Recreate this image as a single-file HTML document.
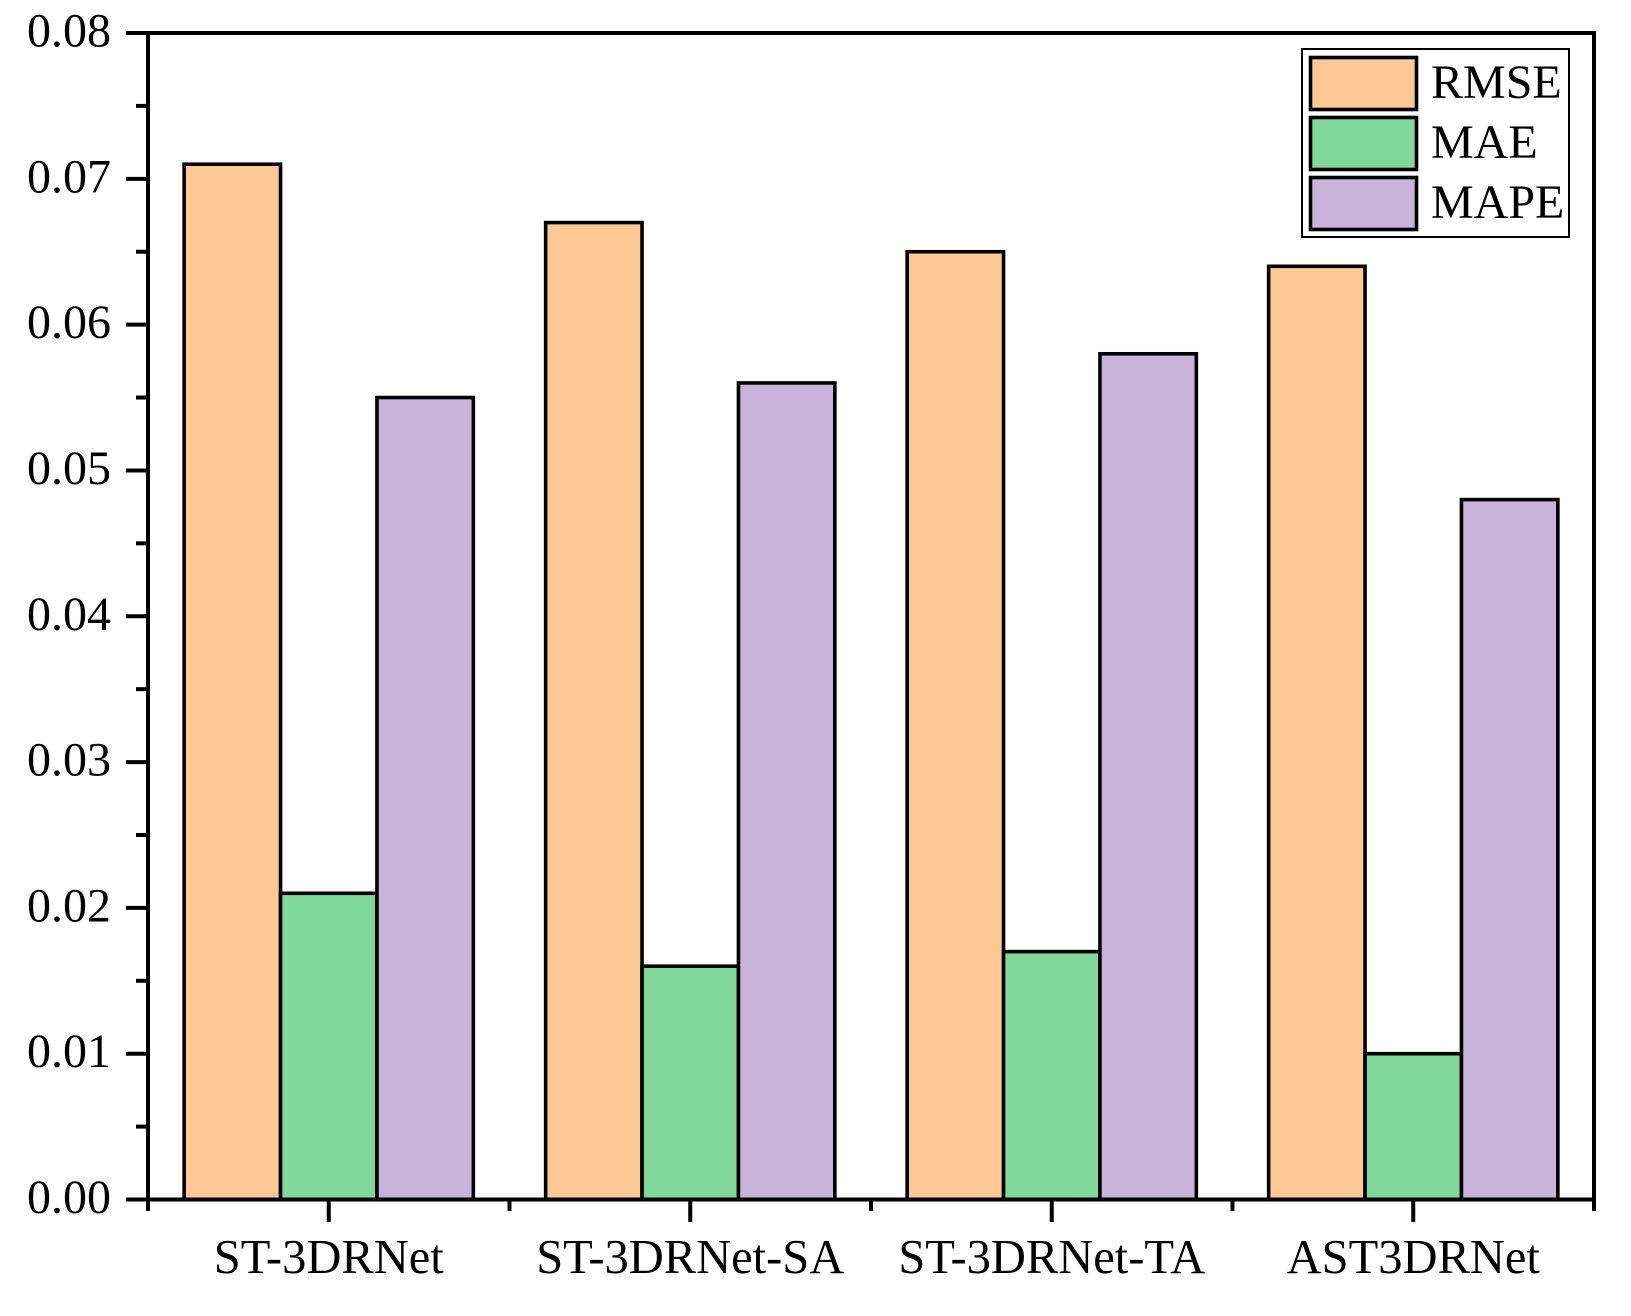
<!DOCTYPE html>
<html lang="en">
<head>
<meta charset="utf-8">
<title>Model error comparison</title>
<style>
html,body{margin:0;padding:0;background:#fff;}
svg{display:block;}
text{font-family:"Liberation Serif","Times New Roman",serif;font-size:48px;fill:#000;}
text.xlab{font-size:48.5px;}
</style>
</head>
<body>
<svg id="chart" xmlns="http://www.w3.org/2000/svg" width="1631" height="1316" viewBox="0 0 1631 1316">
  <rect x="0" y="0" width="1631" height="1316" fill="#ffffff"/>
  <g id="bars"></g>
  <g id="axes"></g>
  <g id="legend"></g>
</svg>
<script>
const categories = ['ST-3DRNet', 'ST-3DRNet-SA', 'ST-3DRNet-TA', 'AST3DRNet'];
const seriesNames = ['RMSE', 'MAE', 'MAPE'];
const rmseValues = [0.071, 0.067, 0.065, 0.064];
const maeValues = [0.021, 0.016, 0.017, 0.010];
const mapeValues = [0.055, 0.056, 0.058, 0.048];
const yTickLabels = ['0.00', '0.01', '0.02', '0.03', '0.04', '0.05', '0.06', '0.07', '0.08'];
const yMinorTickValues = [0.005, 0.015, 0.025, 0.035, 0.045, 0.055, 0.065, 0.075];

const seriesValues = [rmseValues, maeValues, mapeValues];
const colors = ['#FEC994', '#80D89A', '#C8B4D8'];
const NS = 'http://www.w3.org/2000/svg';
const plot = {left: 148, right: 1594, top: 33, bottom: 1199.5};
const yMax = 0.08;
const bandW = (plot.right - plot.left) / categories.length;
const barW = bandW * 0.8 / seriesNames.length;

function yScale(v) { return plot.bottom - (v / yMax) * (plot.bottom - plot.top); }
function xBand(i) { return plot.left + i * bandW; }
function xCenter(i) { return xBand(i) + bandW / 2; }
function el(tag, parent, attrs) {
  const n = document.createElementNS(NS, tag);
  for (const k in attrs) n.setAttribute(k, attrs[k]);
  parent.appendChild(n);
  return n;
}

const barsG = document.getElementById('bars');
categories.forEach(function (cat, i) {
  seriesValues.forEach(function (vals, s) {
    const x = xCenter(i) - barW * seriesNames.length / 2 + s * barW;
    const y = yScale(vals[i]);
    const r = el('rect', barsG, {x: x, y: y, width: barW, height: plot.bottom - y, fill: colors[s], stroke: '#000', 'stroke-width': 3.6});
    
    
  });
});

const axesG = document.getElementById('axes');
const AXW = 4;

yTickLabels.forEach(function (lab) {
  const y = yScale(parseFloat(lab));
  const t = el('line', axesG, {x1: 126, x2: plot.left, y1: y, y2: y, stroke: '#000', 'stroke-width': AXW});
  
  
  const l = el('text', axesG, {x: 27, y: y + 13.5});
  l.textContent = lab;
  
  
});

yMinorTickValues.forEach(function (v) {
  const y = yScale(v);
  const t = el('line', axesG, {x1: 136, x2: plot.left, y1: y, y2: y, stroke: '#000', 'stroke-width': AXW});
  
  
});

categories.forEach(function (cat, i) {
  const x = xCenter(i);
  const t = el('line', axesG, {x1: x, x2: x, y1: plot.bottom, y2: 1222, stroke: '#000', 'stroke-width': AXW});
  
  
  const l = el('text', axesG, {x: x, y: 1273, 'text-anchor': 'middle', 'class': 'xlab'});
  l.textContent = cat;
  
  
});

for (let i = 0; i <= categories.length; i++) {
  const x = xBand(i);
  const t = el('line', axesG, {x1: x, x2: x, y1: plot.bottom, y2: 1211, stroke: '#000', 'stroke-width': AXW});
  
  
}

const frame = el('rect', axesG, {x: plot.left, y: plot.top, width: plot.right - plot.left, height: plot.bottom - plot.top, fill: 'none', stroke: '#000', 'stroke-width': AXW});



const legendG = document.getElementById('legend');
const box = el('rect', legendG, {x: 1302, y: 49, width: 267, height: 188, fill: '#fff', stroke: '#000', 'stroke-width': 2});


seriesNames.forEach(function (name, s) {
  const top = 57.5 + s * 60;
  const sw = el('rect', legendG, {x: 1310.5, y: top, width: 106, height: 52, fill: colors[s], stroke: '#000', 'stroke-width': 3.6});
  
  
  const l = el('text', legendG, {x: 1431, y: 98 + s * 60});
  l.textContent = name;
  
  
});
</script>
</body>
</html>
